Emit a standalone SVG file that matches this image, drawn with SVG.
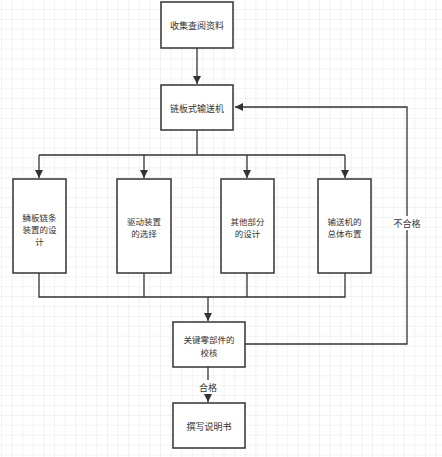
<svg xmlns="http://www.w3.org/2000/svg" width="442" height="457" viewBox="0 0 442 457">
<defs>
<pattern id="grid" x="1" y="-0.9" width="10.6" height="9.9" patternUnits="userSpaceOnUse">
<path d="M0 0 V9.9 M0 0 H10.6" fill="none" stroke="#e6e6e6" stroke-width="1"/>
</pattern>
<marker id="arr" viewBox="0 0 10 10" refX="10" refY="5" markerWidth="8" markerHeight="8" markerUnits="userSpaceOnUse" orient="auto">
<path d="M0 0 L10 5 L0 10 Z" fill="#333"/>
</marker>
<style>
.box{fill:#fff;stroke:#333;stroke-width:1.5}
.t{font-family:"Noto Sans CJK SC","Liberation Sans",sans-serif;font-size:9px;fill:#333;text-anchor:middle;dominant-baseline:central}
.m{font-size:8.5px}
.ln{fill:none;stroke:#333;stroke-width:1.3}
.lbl{fill:#fff}
</style>
</defs>
<rect width="442" height="457" fill="#fff"/>
<rect width="442" height="457" fill="url(#grid)"/>
<g id="connectors">
<path class="ln" d="M197 48 V84" marker-end="url(#arr)"/>
<path class="ln" d="M197 130 V155 M39 155 H345"/>
<path class="ln" d="M39 155 V178" marker-end="url(#arr)"/>
<path class="ln" d="M144 155 V178" marker-end="url(#arr)"/>
<path class="ln" d="M247 155 V178" marker-end="url(#arr)"/>
<path class="ln" d="M345 155 V178" marker-end="url(#arr)"/>
<path class="ln" d="M39 273 V297 H345 V273 M144 273 V297 M247 273 V297"/>
<path class="ln" d="M208 297 V321" marker-end="url(#arr)" stroke-width="2"/>
<path class="ln" d="M245 344 H407 V107 H235" marker-end="url(#arr)"/>
<path class="ln" d="M208 367 V402" marker-end="url(#arr)"/>
<rect class="lbl" x="394" y="216" width="26" height="14"/>
<text class="t" x="407" y="223">不合格</text>
<rect class="lbl" x="198" y="380" width="20" height="14"/>
<text class="t" x="208" y="387">合格</text>
</g>
<g id="n1"><rect class="box" x="161" y="2" width="72" height="46"/><text class="t" x="197" y="25">收集查阅资料</text></g>
<g id="n2"><rect class="box" x="161" y="85" width="72" height="45"/><text class="t" x="197" y="108">链板式输送机</text></g>
<g id="n3"><rect class="box" x="13" y="179" width="53" height="94"/><text class="t m"><tspan x="39.5" y="216.5">鳞板链条</tspan><tspan x="39.5" y="228.9">装置的设</tspan><tspan x="39.5" y="241.3">计</tspan></text></g>
<g id="n4"><rect class="box" x="117" y="179" width="54" height="94"/><text class="t m"><tspan x="144" y="220.8">驱动装置</tspan><tspan x="144" y="233.2">的选择</tspan></text></g>
<g id="n5"><rect class="box" x="221" y="179" width="53" height="94"/><text class="t m"><tspan x="247.5" y="220.8">其他部分</tspan><tspan x="247.5" y="233.2">的设计</tspan></text></g>
<g id="n6"><rect class="box" x="318" y="179" width="53" height="94"/><text class="t m"><tspan x="344.5" y="220.8">输送机的</tspan><tspan x="344.5" y="233.2">总体布置</tspan></text></g>
<g id="n7"><rect class="box" x="173" y="322" width="72" height="45"/><text class="t m"><tspan x="209" y="339.3">关键零部件的</tspan><tspan x="209" y="351.7">校核</tspan></text></g>
<g id="n8"><rect class="box" x="173" y="403" width="72" height="45"/><text class="t" x="209" y="426">撰写说明书</text></g>
</svg>
